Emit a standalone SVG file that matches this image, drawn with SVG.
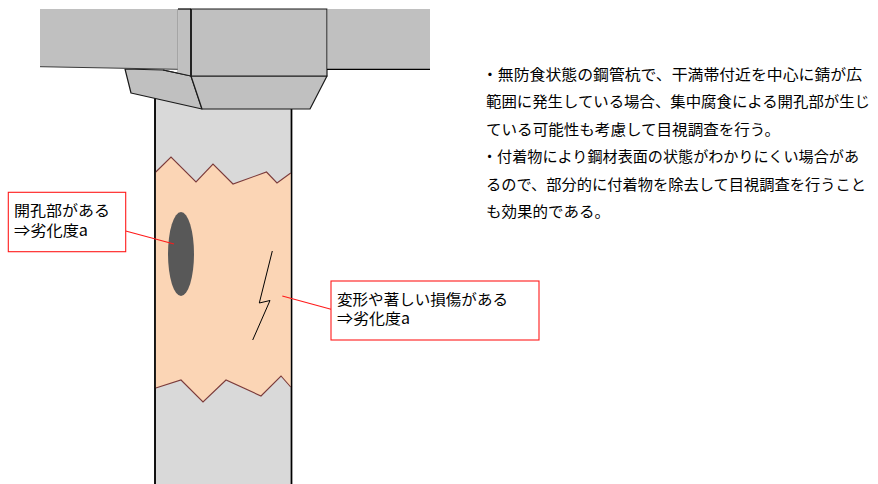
<svg xmlns="http://www.w3.org/2000/svg" width="878" height="484" viewBox="0 0 878 484">
  <defs>
    <filter id="soft" x="-30%" y="-10%" width="160%" height="120%">
      <feGaussianBlur stdDeviation="0.6"/>
    </filter>
    <style>
      .jp { font-family: "Noto Sans CJK JP", "Noto Sans", sans-serif; font-size: 15px; fill: #000; }
      .deck { fill: #c0c0c0; stroke: none; }
      .edge { fill: none; stroke: #000; stroke-width: 1.2; }
      .cap { fill: #c0c0c0; stroke: #1a1a1a; stroke-width: 1.2; stroke-linejoin: round; }
      .pile { fill: #d9d9d9; stroke: #000; stroke-width: 1.6; }
      .rust { fill: #fbd5b5; stroke: none; }
      .rustEdge { fill: none; stroke: #7b3b3b; stroke-width: 1.1; stroke-linejoin: miter; }
      .label { fill: #fff; stroke: #ff1a1a; stroke-width: 1.1; }
      .leader { fill: none; stroke: #ff1a1a; stroke-width: 1.1; }
    </style>
  </defs>

  <!-- steel pipe pile -->
  <g id="pile">
    <rect class="pile" x="155" y="96" width="136.5" height="400"/>
    <!-- corroded band -->
    <polygon class="rust" points="155.8,172 171,157 196,182 213,164 233,184 266.5,172 277,183 290.7,173 290.7,387 281,376 261,396 226,380 203,402 181,380 155.8,388"/>
    <polyline class="rustEdge" points="155.8,172 171,157 196,182 213,164 233,184 266.5,172 277,183 290.7,173"/>
    <polyline class="rustEdge" points="155.8,388 181,380 203,402 226,380 261,396 281,376 290.7,387"/>
    <line class="edge" x1="155" y1="96" x2="155" y2="484" stroke-width="1.6"/>
    <line class="edge" x1="291.5" y1="96" x2="291.5" y2="484" stroke-width="1.6"/>
    <!-- perforation -->
    <ellipse cx="181" cy="254" rx="13" ry="42" fill="#595959" filter="url(#soft)"/>
    <!-- crack -->
    <polyline fill="none" stroke="#000" stroke-width="1" points="272.3,251 259.3,303 270,300.5 252.7,340"/>
  </g>

  <!-- pile cap and deck -->
  <g id="superstructure">
    <polygon class="cap" points="125,69 163,70 191,76 202,109 131,93"/>
    <polygon class="cap" points="191,76 327,76 310,109 202,109"/>
    <polygon class="deck" points="40,9 178,9 178,69.3 40,66.7"/>
    <line x1="40" y1="66.7" x2="178" y2="69.3" stroke="#3a3a3a" stroke-width="1"/>
    <line x1="178" y1="9" x2="178" y2="72.5" stroke="#8a8a8a" stroke-width="1"/>
    <polygon class="deck" points="178.5,9 191,9 191,76 178.5,72.7"/>
    <rect class="cap" x="191" y="9" width="136" height="67"/>
    <line x1="191" y1="9" x2="191" y2="76" stroke="#222" stroke-width="2"/>
    <line x1="178" y1="9" x2="191" y2="9" stroke="#000" stroke-width="1.2"/>
    <line x1="163" y1="70" x2="191" y2="76" stroke="#222" stroke-width="1.2"/>
    <rect class="deck" x="327.6" y="9" width="102.4" height="60"/>
    <line x1="327" y1="69.3" x2="430" y2="69.3" stroke="#000" stroke-width="1.2"/>
  </g>

  <!-- leaders -->
  <g id="connectors">
    <line class="leader" x1="125.7" y1="231" x2="174" y2="244"/>
    <line class="leader" x1="282.3" y1="296" x2="331" y2="309.3"/>
  </g>

  <g id="label-perforation">
    <rect class="label" x="8.3" y="192.3" width="117.4" height="59.4"/>
    <text class="jp" x="14" y="216" textLength="96" lengthAdjust="spacingAndGlyphs">開孔部がある</text>
    <text class="jp" x="14" y="235.5" textLength="74" lengthAdjust="spacingAndGlyphs">⇒劣化度a</text>
  </g>

  <g id="label-deformation">
    <rect class="label" x="331" y="281" width="208" height="59"/>
    <text class="jp" x="337" y="305" textLength="171" lengthAdjust="spacingAndGlyphs">変形や著しい損傷がある</text>
    <text class="jp" x="337" y="324" textLength="73" lengthAdjust="spacingAndGlyphs">⇒劣化度a</text>
  </g>

  <!-- inspection notes -->
  <g id="notes">
    <text class="jp" x="482" y="79.5" textLength="380" lengthAdjust="spacingAndGlyphs">・無防食状態の鋼管杭で、干満帯付近を中心に錆が広</text>
    <text class="jp" x="486" y="107" textLength="384" lengthAdjust="spacingAndGlyphs">範囲に発生している場合、集中腐食による開孔部が生じ</text>
    <text class="jp" x="486" y="134.5" textLength="294" lengthAdjust="spacingAndGlyphs">ている可能性も考慮して目視調査を行う。</text>
    <text class="jp" x="482" y="162" textLength="377" lengthAdjust="spacingAndGlyphs">・付着物により鋼材表面の状態がわかりにくい場合があ</text>
    <text class="jp" x="486" y="189.5" textLength="380" lengthAdjust="spacingAndGlyphs">るので、部分的に付着物を除去して目視調査を行うこと</text>
    <text class="jp" x="486" y="217" textLength="124" lengthAdjust="spacingAndGlyphs">も効果的である。</text>
  </g>
</svg>
